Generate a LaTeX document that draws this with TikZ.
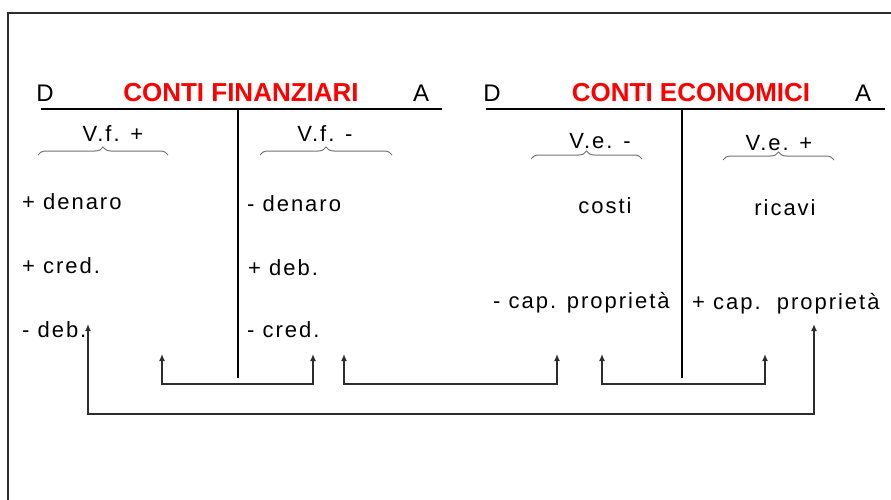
\documentclass[tikz,border=0pt]{standalone}
\usepackage{fontspec}
\setmainfont{Liberation Sans}
\newfontfamily\spaced[LetterSpace=9]{Liberation Sans}
\usetikzlibrary{decorations.pathreplacing,arrows.meta}
\definecolor{titlered}{RGB}{255,0,0}
\definecolor{linegray}{RGB}{45,45,45}
\begin{document}
\begin{tikzpicture}[x=1pt,y=-1pt,
  item/.style={inner sep=0pt,font=\spaced\fontsize{22}{26}\selectfont,text=black},
  iteml/.style={item,anchor=base west},
  itemc/.style={item,anchor=base},
  head/.style={inner sep=0pt,anchor=base,font=\fontsize{24}{28}\selectfont},
  titlenode/.style={inner sep=0pt,anchor=base,font=\bfseries\fontsize{26}{30}\selectfont,text=titlered},
  rulel/.style={line width=1.5pt,draw=black},
  bracel/.style={draw=gray!90!black,line width=1pt,decorate,decoration={brace,amplitude=8pt}},
  link/.style={draw=linegray,line width=1.4pt,{Latex[length=7pt,width=6pt]}-{Latex[length=7pt,width=6pt]}},
]
\useasboundingbox (0,0) rectangle (891,500);
\fill[white] (0,0) rectangle (891,500);
% frame
\draw[line width=2pt,draw=linegray] (8,500) -- (8,13) -- (891,13);

% left T
\node[head] (D1) at (45,102) {D};
\node[titlenode] (T1) at (241,102) {CONTI FINANZIARI};
\node[head] (A1) at (421,102) {A};
\coordinate (h1l) at (41,109);
\coordinate (h1r) at (442,109);
\coordinate (v1t) at (238,109);
\coordinate (v1b) at (238,378);
\draw[rulel] (h1l) -- (h1r);
\draw[rulel] (v1t) -- (v1b);

% right T
\node[head] (D2) at (492,102) {D};
\node[titlenode] (T2) at (691,102) {CONTI ECONOMICI};
\node[head] (A2) at (863,102) {A};
\coordinate (h2l) at (486,109);
\coordinate (h2r) at (885,109);
\coordinate (v2t) at (682,109);
\coordinate (v2b) at (682,378);
\draw[rulel] (h2l) -- (h2r);
\draw[rulel] (v2t) -- (v2b);

% brace labels
\node[itemc] (vfp) at (113,142) {V.f. +};
\node[itemc] (vfm) at (325,142) {V.f. -};
\node[itemc] (vem) at (600,149) {V.e. -};
\node[itemc] (vep) at (779,150) {V.e. +};
\draw[bracel] (38,155) -- (168,155);
\draw[bracel] (260,155) -- (392,155);
\draw[bracel] (531,159) -- (642,159);
\draw[bracel] (723,160) -- (834,160);

% items left account
\node[iteml] (lden) at (22,209) {+ denaro};
\node[iteml] (lcred) at (22,273) {+ cred.};
\node[iteml] (ldeb) at (22,337) {- deb.};
\node[iteml] (rden) at (247,211) {- denaro};
\node[iteml] (rdeb) at (248,275) {+ deb.};
\node[iteml] (rcred) at (247,337) {- cred.};
% items right account
\node[itemc] (costi) at (605,213) {costi};
\node[itemc] (ricavi) at (785,215) {ricavi};
\node[iteml] (capm) at (493,308) {- cap. proprietà};
\node[iteml] (capp) at (692,309) {+ cap.\ \ proprietà};

% connectors
\coordinate (a1) at (162,354);
\coordinate (b1) at (162,384);
\coordinate (a2) at (313,354);
\draw[link] (a1) -- (b1) -| (a2);

\coordinate (a3) at (344,354);
\coordinate (b3) at (344,384);
\coordinate (a4) at (557,354);
\draw[link] (a3) -- (b3) -| (a4);

\coordinate (a5) at (602,354);
\coordinate (b5) at (602,384);
\coordinate (a6) at (765,354);
\draw[link] (a5) -- (b5) -| (a6);

\coordinate (a7) at (88,324);
\coordinate (b7) at (88,414);
\coordinate (a8) at (814,324);
\draw[link] (a7) -- (b7) -| (a8);
\end{tikzpicture}
\end{document}
